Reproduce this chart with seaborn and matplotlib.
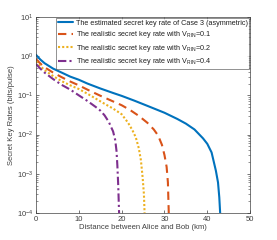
import numpy as np
import pandas as pd
import matplotlib
matplotlib.use("Agg")
import matplotlib.pyplot as plt
import seaborn as sns
from matplotlib.ticker import LogLocator, NullFormatter

# Readings from the reference chart (distance in km, rate in bits/pulse)
case3_km = [0, 1, 2, 4, 6, 8, 10, 12, 15, 18, 20, 23, 26, 30, 33, 35, 37, 39, 40, 41, 42, 42.5, 42.8, 43.0]
case3_rate = [1.08, 0.82, 0.66, 0.48, 0.38, 0.30, 0.25, 0.20, 0.15, 0.115, 0.097, 0.073, 0.054, 0.036,
              0.025, 0.019, 0.0135, 0.008, 0.0058, 0.0035, 0.0012, 0.0006, 0.00025, 0.0001]

rin01_km = [0, 1, 2, 4, 6, 8, 10, 12, 15, 18, 20, 22, 24, 26, 27.5, 28.5, 29.4, 30, 30.5, 30.8, 31.0]
rin01_rate = [0.84, 0.65, 0.52, 0.38, 0.29, 0.225, 0.18, 0.14, 0.098, 0.07, 0.056, 0.042, 0.03, 0.02,
              0.0135, 0.0095, 0.0055, 0.003, 0.0015, 0.0006, 0.0001]

rin02_km = [0, 1, 2, 4, 6, 8, 10, 12, 14, 16, 18, 20, 21.5, 22.5, 23.3, 24, 24.5, 24.9, 25.2, 25.35]
rin02_rate = [0.74, 0.56, 0.44, 0.31, 0.23, 0.18, 0.145, 0.11, 0.082, 0.061, 0.046, 0.033, 0.02,
              0.013, 0.0085, 0.0045, 0.0022, 0.0008, 0.0003, 0.0001]

rin04_km = [0, 1, 2, 4, 6, 8, 10, 12, 14, 15, 16, 17, 18, 18.5, 18.8, 19.0, 19.2, 19.4]
rin04_rate = [0.63, 0.48, 0.38, 0.26, 0.185, 0.14, 0.10, 0.072, 0.05, 0.041, 0.031, 0.021, 0.012,
              0.0072, 0.0038, 0.0016, 0.0005, 0.0001]

labels = [
    "The estimated secret key rate of Case 3 (asymmetric)",
    r"The realistic secret key rate with V$_{\mathrm{RIN}}$=0.1",
    r"The realistic secret key rate with V$_{\mathrm{RIN}}$=0.2",
    r"The realistic secret key rate with V$_{\mathrm{RIN}}$=0.4",
]
colors = ["#0072BD", "#D95319", "#EDB120", "#7E2F8E"]
styles = ["-", (0, (4, 2.5)), (0, (1, 1)), (0, (4, 1.5, 1, 1.5))]

sns.set_style("ticks")
plt.rcParams["font.family"] = ["Liberation Sans", "DejaVu Sans"]
plt.rcParams["mathtext.fontset"] = "custom"
plt.rcParams["mathtext.rm"] = "Liberation Sans"
plt.rcParams["mathtext.it"] = "Liberation Sans"

fig = plt.figure(figsize=(2.77, 2.40), dpi=100)
ax = fig.add_axes([0.130, 0.1125, 0.773, 0.817])

series = [(case3_km, case3_rate), (rin01_km, rin01_rate), (rin02_km, rin02_rate), (rin04_km, rin04_rate)]
for (xs, ys), lab, col, ls in zip(series, labels, colors, styles):
    df = pd.DataFrame({"km": xs, "rate": ys})
    sns.lineplot(data=df, x="km", y="rate", ax=ax, color=col, linewidth=1.5,
                 linestyle=ls, label=lab)

ax.set_yscale("log")
ax.set_xlim(0, 50)
ax.set_ylim(1e-4, 10)
ax.set_xticks([0, 10, 20, 30, 40, 50])
ax.yaxis.set_major_locator(LogLocator(base=10, numticks=10))
ax.yaxis.set_minor_locator(LogLocator(base=10, subs=np.arange(2, 10), numticks=20))
ax.yaxis.set_minor_formatter(NullFormatter())

txt = "#404040"
ax.set_xlabel("Distance between Alice and Bob (km)", fontsize=5.5, color=txt, labelpad=1)
ax.set_ylabel("Secret Key Rates (bits/pulse)", fontsize=5.5, color=txt, labelpad=1)

ax.tick_params(which="both", direction="in", top=True, right=True, colors=txt,
               labelsize=5.5, pad=2)
ax.tick_params(which="major", length=2.5, width=0.5)
ax.tick_params(which="minor", length=1.3, width=0.4)
for sp in ax.spines.values():
    sp.set_linewidth(0.5)
    sp.set_color(txt)

leg = ax.legend(loc="upper right", fontsize=5.2, frameon=True, fancybox=False,
                borderpad=0.25, labelspacing=0.35, handlelength=2.0, handletextpad=0.4,
                borderaxespad=0.1)
leg.get_frame().set_edgecolor(txt)
leg.get_frame().set_linewidth(0.5)
for t in leg.get_texts():
    t.set_color("#202020")

fig.savefig("out.png", dpi=100)
